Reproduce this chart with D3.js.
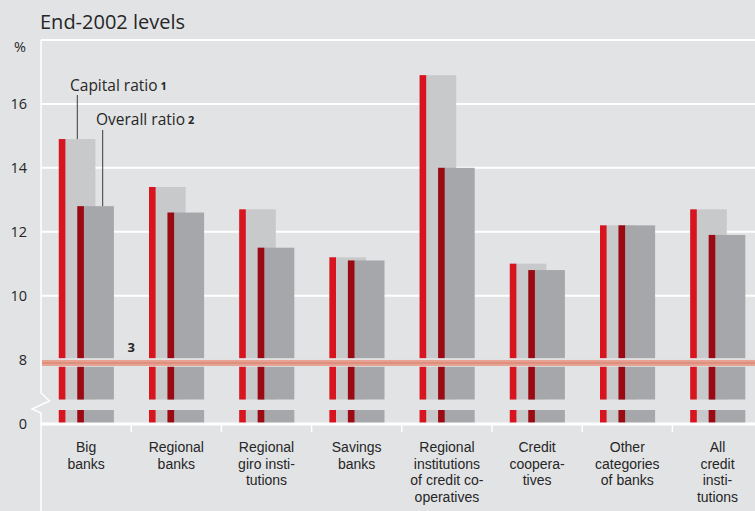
<!DOCTYPE html>
<html>
<head>
<meta charset="utf-8">
<script src="https://cdn.jsdelivr.net/npm/d3@7"></script>
<style>
  html, body { margin: 0; padding: 0; background: #e2e3e5; }
  svg { display: block; }
  text { font-family: "Open Sans", "DejaVu Sans", sans-serif; fill: #262626; }
  text.cat-label { font-family: "Liberation Sans", Arial, sans-serif; }
</style>
</head>
<body>
<svg id="chart" width="755" height="511"></svg>
<script>
// Categories of banks (label lines as printed under the axis)
const categories = [
  "Big banks",
  "Regional banks",
  "Regional giro institutions",
  "Savings banks",
  "Regional institutions of credit cooperatives",
  "Credit cooperatives",
  "Other categories of banks",
  "All credit institutions"
];
const categoryLines = [
  ["Big", "banks"],
  ["Regional", "banks"],
  ["Regional", "giro insti-", "tutions"],
  ["Savings", "banks"],
  ["Regional", "institutions", "of credit co-", "operatives"],
  ["Credit", "coopera-", "tives"],
  ["Other", "categories", "of banks"],
  ["All", "credit", "insti-", "tutions"]
];

// End-2002 levels, in %
const capitalRatio = [14.9, 13.4, 12.7, 11.2, 16.9, 11.0, 12.2, 12.7];
const overallRatio = [12.8, 12.6, 11.5, 11.1, 14.0, 10.8, 12.2, 11.9];

// Minimum overall ratio line
const minimumRatio = 8;

const yTickValues = [0, 8, 10, 12, 14, 16];
const gridValues = [10, 12, 14, 16, 18];

const title = "End-2002 levels";
const unitLabel = "%";
const seriesNames = ["Capital ratio", "Overall ratio"];
const footnoteMarks = ["1", "2", "3"];

// ---- layout
const W = 755, H = 511;
const left = 41;
const bg = "#e2e3e5";
const colors = {
  capitalEdge: "#d8151f",
  capitalBody: "#c8c9cb",
  overallEdge: "#9b0a12",
  overallBody: "#a6a7aa",
  minLine: "#e6a292",
  minLineCore: "#de8f7d"
};

const svg = d3.select("#chart");
svg.append("rect").attr("width", W).attr("height", H).attr("fill", bg);

// Broken value axis: the stretch between breakLow and breakHigh is cut out
const breakLow = 0.44, breakHigh = 6.75;
const y = d3.scaleLinear()
  .domain([0, breakLow, breakHigh, 18])
  .range([424, 410, 399.5, 40]);

const x = d3.scaleBand()
  .domain(categories)
  .range([left, left + 90.2 * categories.length])
  .paddingInner(0).paddingOuter(0);

// offset of each series' bar from the category centre
const seriesOffset = d3.scalePoint()
  .domain(seriesNames)
  .range([-27.3, -8.8]);
const barWidth = 36.6, edgeWidth = 6.6;

// ---- grid
const g = svg.append("g");
g.selectAll("line.grid")
  .data(gridValues)
  .join("line")
  .attr("class", "grid")
  .attr("x1", left).attr("x2", W)
  .attr("y1", d => y(d)).attr("y2", d => y(d))
  .attr("stroke", "#ffffff").attr("stroke-width", 2);

// ---- bars
const rows = categories.map((c, i) => ({
  cat: c,
  cx: x(c) + x.bandwidth() / 2,
  values: [
    { s: seriesNames[0], v: capitalRatio[i], edge: colors.capitalEdge, body: colors.capitalBody },
    { s: seriesNames[1], v: overallRatio[i], edge: colors.overallEdge, body: colors.overallBody }
  ]
}));

const bars = g.selectAll("g.cat")
  .data(rows)
  .join("g")
  .attr("class", "cat")
  .attr("transform", d => `translate(${d.cx},0)`);

const segs = [
  { top: v => y(v), bottom: () => y(breakHigh) },
  { top: () => y(breakLow), bottom: () => y(0) }
];

const series = bars.selectAll("g.series")
  .data(d => d.values)
  .join("g")
  .attr("class", "series")
  .attr("transform", d => `translate(${seriesOffset(d.s)},0)`);

segs.forEach(seg => {
  series.append("rect")
    .attr("x", 0)
    .attr("width", barWidth)
    .attr("y", d => seg.top(d.v))
    .attr("height", d => seg.bottom(d.v) - seg.top(d.v))
    .attr("fill", d => d.body);
  series.append("rect")
    .attr("x", 0)
    .attr("width", edgeWidth)
    .attr("y", d => seg.top(d.v))
    .attr("height", d => seg.bottom(d.v) - seg.top(d.v))
    .attr("fill", d => d.edge);
});

// ---- minimum ratio line with a gap cut into the bars
const yMin = y(minimumRatio);
g.append("rect")
  .attr("x", left).attr("width", W - left)
  .attr("y", yMin - 1.4).attr("height", 8.6)
  .attr("fill", bg);
g.append("rect")
  .attr("x", left + 1).attr("width", W - left)
  .attr("y", yMin + 0.4).attr("height", 6)
  .attr("fill", colors.minLine);
g.append("rect")
  .attr("x", left + 1).attr("width", W - left)
  .attr("y", yMin + 2.4).attr("height", 2)
  .attr("fill", colors.minLineCore);
g.append("text")
  .attr("x", x(categories[1]))
  .attr("y", yMin - 8)
  .attr("text-anchor", "middle")
  .attr("font-size", 13)
  .attr("font-weight", "bold")
  .text(footnoteMarks[2]);

// ---- zero line, category ticks
g.append("line")
  .attr("x1", left).attr("x2", W)
  .attr("y1", y(0)).attr("y2", y(0))
  .attr("stroke", "#ffffff").attr("stroke-width", 3);

g.selectAll("line.ctick")
  .data(categories.slice(1))
  .join("line")
  .attr("class", "ctick")
  .attr("x1", d => x(d)).attr("x2", d => x(d))
  .attr("y1", y(0)).attr("y2", y(0) + 8)
  .attr("stroke", "#ffffff").attr("stroke-width", 1.5);

// ---- value axis line with break mark
const axisPath = d3.path();
axisPath.moveTo(left, y(18));
axisPath.lineTo(left, 393);
axisPath.lineTo(49.5, 401);
axisPath.lineTo(32, 409);
axisPath.lineTo(left, 413);
axisPath.lineTo(left, H);
g.append("path")
  .attr("d", axisPath.toString())
  .attr("fill", "none")
  .attr("stroke", "#ffffff")
  .attr("stroke-width", 1.5);

// ---- value axis labels
const yAxis = d3.axisLeft(y)
  .tickValues(yTickValues)
  .tickSize(0)
  .tickPadding(0)
  .tickFormat(d3.format("d"));
const ya = svg.append("g")
  .attr("transform", "translate(27,0)")
  .call(yAxis);
ya.select(".domain").remove();
ya.attr("font-family", null).attr("font-size", null);
ya.selectAll("text")
  .attr("font-size", 14.5)
  .attr("fill", "#262626");

svg.append("text")
  .attr("x", 26).attr("y", 51.5)
  .attr("text-anchor", "end")
  .attr("font-size", 14.5)
  .text(unitLabel);

// ---- title
svg.append("text")
  .attr("x", 40).attr("y", 28.5)
  .attr("font-size", 20)
  .text(title);

// ---- category labels, one text per printed line
const labels = svg.append("g");
rows.forEach((r, i) => {
  labels.selectAll(null)
    .data(categoryLines[i])
    .join("text")
    .attr("class", "cat-label")
    .attr("x", r.cx)
    .attr("y", (d, j) => 452 + j * 16.7)
    .attr("text-anchor", "middle")
    .attr("font-size", 14)
    .text(d => d);
});

// ---- series call-outs on the first category
const callouts = [
  { name: seriesNames[0], mark: footnoteMarks[0], v: capitalRatio[0], tx: 70, ty: 90.7, lx: 77.3, ly: 95 },
  { name: seriesNames[1], mark: footnoteMarks[1], v: overallRatio[0], tx: 96, ty: 125, lx: 102.7, ly: 130 }
];
callouts.forEach(c => {
  svg.append("line")
    .attr("x1", c.lx).attr("x2", c.lx)
    .attr("y1", c.ly).attr("y2", y(c.v))
    .attr("stroke", "#3a3a3a").attr("stroke-width", 1);
  const t = svg.append("text")
    .attr("x", c.tx).attr("y", c.ty)
    .attr("font-size", 15.5)
    .text(c.name);
  t.append("tspan")
    .attr("dx", 3)
    .attr("font-size", 11)
    .attr("font-weight", "bold")
    .attr("dy", -1)
    .text(c.mark);
});
</script>
</body>
</html>
